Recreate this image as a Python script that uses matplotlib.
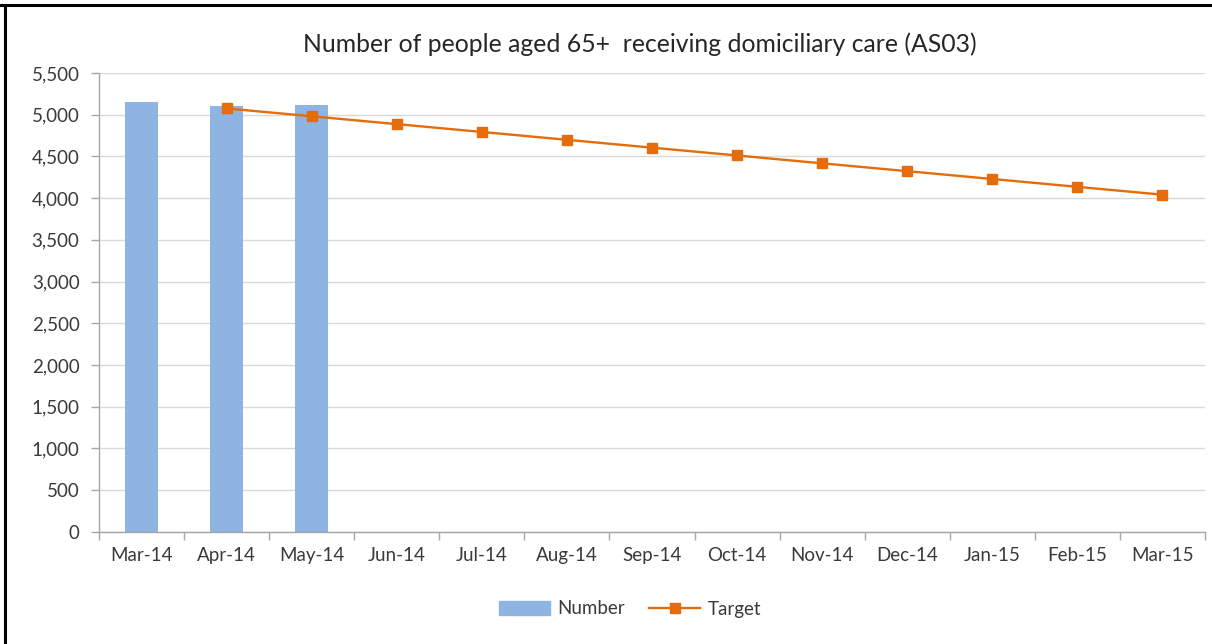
import matplotlib
matplotlib.use("Agg")
import matplotlib.pyplot as plt
from matplotlib.lines import Line2D
import numpy as np

categories = ["Mar-14", "Apr-14", "May-14", "Jun-14", "Jul-14", "Aug-14", "Sep-14",
              "Oct-14", "Nov-14", "Dec-14", "Jan-15", "Feb-15", "Mar-15"]
number = [5150, 5100, 5120, None, None, None, None, None, None, None, None, None, None]
target = [None, 5075, 4981, 4887, 4793, 4699, 4605, 4511, 4417, 4323, 4229, 4135, 4041]
yticks = [0, 500, 1000, 1500, 2000, 2500, 3000, 3500, 4000, 4500, 5000, 5500]

plt.rcParams['font.family'] = ['Lato', 'DejaVu Sans']

W, H = 1212, 644
fig = plt.figure(figsize=(W / 100, H / 100), dpi=100)
ax = fig.add_axes([99 / W, 1 - 531.7 / H, (1205 - 99) / W, (531.7 - 73) / H])

x = np.arange(len(categories))
bx = [i for i, v in zip(x, number) if v is not None]
bv = [v for v in number if v is not None]
ax.bar(bx, bv, width=0.39, color="#8EB4E3", zorder=2, label="Number")

tx = [i for i, v in zip(x, target) if v is not None]
tv = [v for v in target if v is not None]
ax.plot(tx, tv, color="#E46C0A", lw=1.7, marker="s", markersize=7, zorder=3, label="Target")

tc = "#3A3A3A"
fs = 13.5
ax.set_xlim(-0.5, len(categories) - 0.5)
ax.set_ylim(0, 5500)
ax.set_yticks(yticks)
ax.set_yticklabels([f"{v:,}" for v in yticks], fontsize=fs, color=tc)
ax.set_xticks(x)
ax.set_xticklabels(categories, fontsize=fs, color=tc)
ax.set_xticks(np.arange(-0.5, len(categories)), minor=True)
ax.tick_params(axis="x", which="major", length=0, pad=11)
ax.tick_params(axis="x", which="minor", length=6, color="#A6A6A6", width=1)
ax.tick_params(axis="y", length=6, color="#A6A6A6", width=1, pad=8)

ax.grid(axis="y", color="#D9D9D9", lw=1, zorder=0)
ax.set_axisbelow(True)
for s in ["top", "right"]:
    ax.spines[s].set_visible(False)
for s in ["left", "bottom"]:
    ax.spines[s].set_color("#A6A6A6")
    ax.spines[s].set_linewidth(1)

fig.text(640 / W, 1 - 44 / H, "Number of people aged 65+  receiving domiciliary care (AS03)",
         ha="center", va="center", fontsize=17.8, color="#262626")

handles = [plt.Rectangle((0, 0), 1, 1, color="#8EB4E3"),
           Line2D([], [], color="#E46C0A", lw=1.7, marker="s", markersize=7)]
fig.legend(handles, ["Number", "Target"], loc="center", bbox_to_anchor=(630 / W, 1 - 609 / H),
           ncol=2, frameon=False, fontsize=fs, handlelength=2.7, columnspacing=1.3,
           handletextpad=0.4)
for t in fig.legends[0].get_texts():
    t.set_color(tc)

# image border (top and left)
fig.add_artist(Line2D([0, 1], [1 - 5 / H, 1 - 5 / H], transform=fig.transFigure, color="black", lw=2.2))
fig.add_artist(Line2D([5 / W, 5 / W], [0, 1 - 5 / H], transform=fig.transFigure, color="black", lw=2.2))

fig.savefig("out.png", dpi=100, facecolor="white")
